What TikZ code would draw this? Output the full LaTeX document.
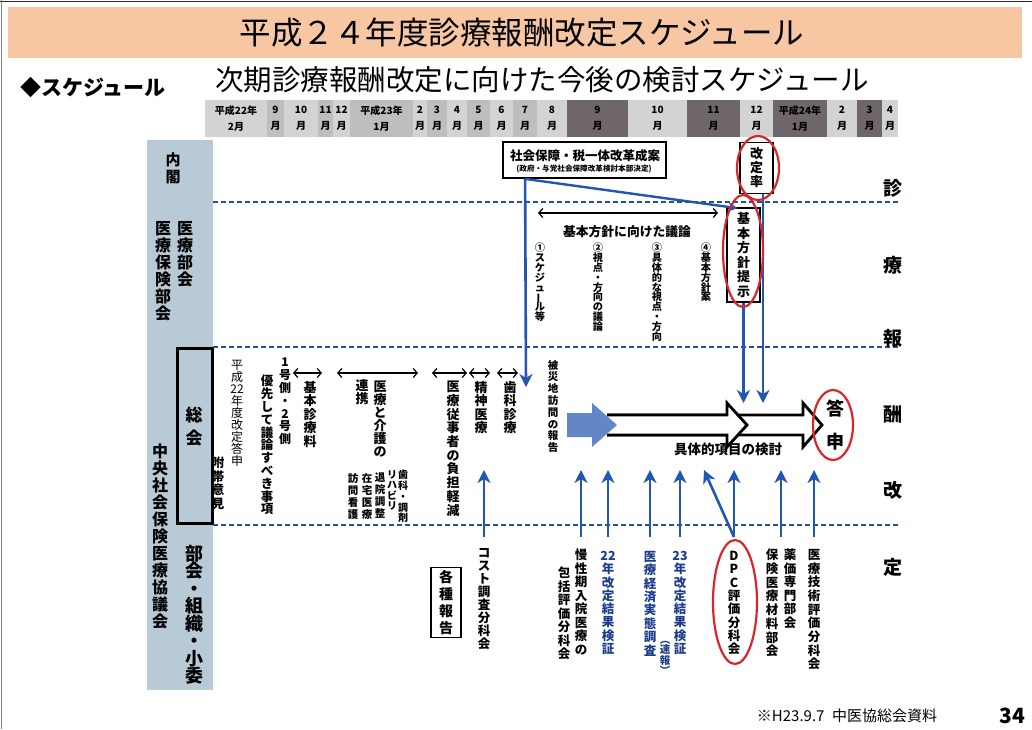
\documentclass[tikz,border=0pt]{standalone}
\usepackage{fontspec}
\setmainfont{Noto Sans CJK JP}
\usepackage{graphicx}
\usetikzlibrary{arrows.meta,shapes.geometric,calc}
\definecolor{peach}{HTML}{F7C7A4}
\definecolor{bandblue}{HTML}{B7CAD6}
\definecolor{arrblue}{HTML}{2356B0}
\definecolor{dashblue}{HTML}{2C4E9E}
\definecolor{navy}{HTML}{1E3C8C}
\definecolor{hlight}{HTML}{D3D3D3}
\definecolor{hmid}{HTML}{BEBEBE}
\definecolor{hdark}{HTML}{6E666A}
\definecolor{ovred}{HTML}{D8262C}
\definecolor{blockblue}{HTML}{6286C8}
\newcommand{\vbr}{\rotatebox[origin=c]{90}{ー}}
\newcommand{\vlp}{\rotatebox[origin=c]{-90}{（}}
\newcommand{\vrp}{\rotatebox[origin=c]{-90}{）}}
\newcommand{\nolsk}{\lineskiplimit=-50pt\relax}
\begin{document}
\begin{tikzpicture}[x=1pt,y=-1pt,
  vt/.style n args={2}{align=center,inner sep=0pt,anchor=north,font={\bfseries\fontsize{#1}{#2}\selectfont\nolsk}},
  vtr/.style n args={2}{align=center,inner sep=0pt,anchor=north,font={\fontsize{#1}{#2}\selectfont\nolsk}},
  bluearrow/.style={draw=arrblue,line width=2.6pt,-{Stealth[length=13pt,width=13pt,inset=4pt]}},
  dbl/.style={line width=1.2pt,arrows={Straight Barb[length=4pt,width=9pt]-Straight Barb[length=4pt,width=9pt]}},
  sepline/.style={draw=dashblue,line width=1.2pt,dash pattern=on 5pt off 3pt},
  redov/.style={ellipse,draw=ovred,line width=2.2pt,inner sep=0pt},
  boxed/.style={draw,line width=1.6pt,inner sep=0pt},
  hollow/.style={draw=black,fill=white,line width=2.8pt,line join=miter},
  hcell/.style={align=center,inner sep=0pt,font={\bfseries\fontsize{10}{16.5}\selectfont}},
  side/.style={inner sep=0pt,font={\bfseries\fontsize{19}{19}\selectfont}},
]
\useasboundingbox (0,0) rectangle (1032,729);
\fill[white] (0,0) rectangle (1032,729);
\draw[line width=1.6pt, black!85] (0,1.5) -- (1032,1.5);
\draw[line width=1pt, black!50] (1,0) -- (1,729);
\fill[peach] (8,7) rectangle (1022,58);
\node[font={\fontsize{31.5}{31.5}\selectfont}] (title) at (522,33) {平成２４年度診療報酬改定スケジュール};
\node[font={\bfseries\fontsize{21}{21}\selectfont}] (sched) at (93,88) {◆スケジュール};
\node[font={\fontsize{28.5}{28.5}\selectfont}] (subtitle) at (542,80) {次期診療報酬改定に向けた今後の検討スケジュール};

% month header
\foreach \xa/\xb/\cc/\ta/\tb [count=\i] in {
  205/267/hlight/平成22年/2月, 267/284/hmid/9/月, 284/318/hlight/10/月,
  318/333/hmid/11/月, 333/350/hlight/12/月, 350/413/hmid/平成23年/1月,
  413/427/hlight/2/月, 427/447/hmid/3/月, 447/467/hlight/4/月,
  467/490/hmid/5/月, 490/513/hlight/6/月, 513/537/hmid/7/月,
  537/567/hlight/8/月, 567/628/hdark/9/月, 628/687/hlight/10/月,
  687/740/hdark/11/月, 740/773/hlight/12/月, 773/827/hdark/平成24年/1月,
  827/857/hlight/2/月, 857/882/hdark/3/月, 882/898/hlight/4/月} {
  \fill[\cc] (\xa,100) rectangle (\xb,137);
  \node[hcell] (m\i) at ({(\xa+\xb)/2},118.5) {\ta\\\tb};
}

% left band
\fill[bandblue] (147,140) rectangle (213,690);
\node[vt={15}{17}] (naikaku) at (173,152) {内\\閣};
\node[vt={16}{17}] (iryobu) at (185,221) {医\\療\\部\\会};
\node[vt={16}{17}] (hokenbu) at (163,221) {医\\療\\保\\険\\部\\会};
\node[draw,line width=3pt,minimum width=35pt,minimum height=175pt,inner sep=0pt] (sokaibox) at (194.5,435.5) {};
\node[vt={17}{23}] (sokai) at (194,407) {総\\会};
\node[vt={16}{17}] (chuikyo) at (160,444) {中\\央\\社\\会\\保\\険\\医\\療\\協\\議\\会};
\node[vt={18}{17.5}] (bukai) at (194,545) {部\\会\\・\\組\\織\\・\\小\\委};

% separators
\draw[sepline] (213,202) -- (900,202);
\draw[sepline] (213,347) -- (900,347);
\draw[sepline] (213,525) -- (900,525);

% right column
\node[side] (r1) at (893,188) {診};
\node[side] (r2) at (893,265) {療};
\node[side] (r3) at (893,338) {報};
\node[side] (r4) at (893,415) {酬};
\node[side] (r5) at (893,490) {改};
\node[side] (r6) at (893,567) {定};

% top boxes
\node[boxed,line width=1.8pt,minimum width=163pt,minimum height=36pt] (seian) at (584.5,160) {};
\node[inner sep=0pt,font={\bfseries\fontsize{12.5}{12.5}\selectfont}] (seiant) at (585,155.5) {社会保障・税一体改革成案};
\node[inner sep=0pt,font={\bfseries\fontsize{7.6}{7.6}\selectfont}] (seians) at (584,169.5) {(政府・与党社会保障改革検討本部決定)};
\node[boxed,minimum width=33pt,minimum height=51pt,align=center,font={\bfseries\fontsize{13}{14}\selectfont\nolsk}] (kaitei) at (756.5,168) {改\\定\\率};
\node[boxed,minimum width=33pt,minimum height=94pt,align=center,font={\bfseries\fontsize{13}{14.5}\selectfont\nolsk}] (kihon) at (743.5,255) {基\\本\\方\\針\\提\\示};

% basic policy discussion
\coordinate (ga) at (538,213);
\coordinate (gb) at (718,213);
\draw[dbl] (ga) -- (gb);
\node[inner sep=0pt,font={\bfseries\fontsize{12.8}{12.8}\selectfont}] (giron) at (627,232) {基本方針に向けた議論};
\node[vt={10.2}{9.8}] (g1) at (540,243) {①\\ス\\ケ\\ジ\\ュ\\\vbr\\ル\\等};
\node[vt={10.2}{9.8}] (g2) at (598,243) {②\\視\\点\\・\\方\\向\\の\\議\\論};
\node[vt={10.2}{9.8}] (g3) at (657,243) {③\\具\\体\\的\\な\\視\\点\\・\\方\\向};
\node[vt={10.2}{9.8}] (g4) at (706,243) {④\\基\\本\\方\\針\\案};

% blue connectors from top
\coordinate (s1) at (526,387);
\coordinate (k1) at (743.5,403);
\coordinate (k2) at (763,403);
\draw[bluearrow] ($(seian.south west)+(23,0)$) -- (s1);
\draw[draw=arrblue,line width=2.4pt,-{Stealth[length=9pt,width=9pt,inset=2pt]}] ($(seian.south west)+(23,0)$) -- ($(kihon.north)+(-6,1)$);
\draw[bluearrow] (kihon.south) -- (k1);
\draw[bluearrow] ($(kaitei.south)+(6.5,0)$) -- (k2);

% middle section texts
\node[vtr={12}{12}] (h22) at (237,360) {平\\成\\22\\年\\度\\改\\定\\答\\申};
\node[vt={12.5}{13.5}] (futai) at (218,457) {附\\帯\\意\\見};
\node[vt={12}{12.8}] (gou) at (285,358) {1\\号\\側\\・\\2\\号\\側};
\node[vt={12.5}{12.8}] (yusen) at (267,375) {優\\先\\し\\て\\議\\論\\す\\べ\\き\\事\\項};
\node[vt={13}{13.5}] (kihonshin) at (310,381) {基\\本\\診\\療\\料};
\node[vt={13}{13}] (kaigo) at (380,381) {医\\療\\と\\介\\護\\の};
\node[vt={13}{13}] (renkei) at (362,379) {連\\携};
\node[vt={10}{10.8}] (shika2) at (403,470) {歯\\科\\・\\調\\剤};
\node[vt={10}{10.5}] (reha) at (392,470) {リ\\ハ\\ビ\\リ};
\node[vt={10.5}{12}] (taiin) at (380,473) {退\\院\\調\\整};
\node[vt={10.5}{12}] (zaitaku) at (367,473) {在\\宅\\医\\療};
\node[vt={10.5}{12}] (houmon) at (353,473) {訪\\問\\看\\護};
\node[vt={13}{13.7}] (futan) at (453,381) {医\\療\\従\\事\\者\\の\\負\\担\\軽\\減};
\node[vt={13}{13.5}] (seishin) at (481,381) {精\\神\\医\\療};
\node[vt={13}{13.5}] (shika) at (510,381) {歯\\科\\診\\療};
\node[vt={10.5}{11.8}] (hisai) at (553,360) {被\\災\\地\\訪\\問\\の\\報\\告};

\coordinate (a1) at (293,373); \coordinate (b1) at (322,373);
\coordinate (a2) at (337,373); \coordinate (b2) at (418,373);
\coordinate (a3) at (432,373); \coordinate (b3) at (467,373);
\coordinate (a4) at (469,373); \coordinate (b4) at (490,373);
\coordinate (a5) at (497,373); \coordinate (b5) at (518,373);
\draw[dbl] (a1) -- (b1);
\draw[dbl] (a2) -- (b2);
\draw[dbl] (a3) -- (b3);
\draw[dbl] (a4) -- (b4);
\draw[dbl] (a5) -- (b5);

% hollow arrows and block arrow
\draw[hollow] (607,415) -- (803,415) -- (803,403) -- (822,425) -- (803,447) -- (803,435) -- (607,435);
\draw[hollow] (607,415) -- (727,415) -- (727,403) -- (747,425) -- (727,447) -- (727,435) -- (607,435);
\fill[blockblue] (567,413) -- (592,413) -- (592,403) -- (617,425) -- (592,447) -- (592,437) -- (567,437) -- cycle;
\node[inner sep=0pt,font={\bfseries\fontsize{13.5}{13.5}\selectfont}] (gutai) at (728,449) {具体的項目の検討};
\node[vt={18}{33}] (toshin) at (835,400) {答\\申};

% bottom labels
\node[boxed,minimum width=30pt,minimum height=70pt,align=center,font={\bfseries\fontsize{14}{17}\selectfont\nolsk}] (kakushu) at (446,602.5) {各\\種\\報\\告};
\node[vt={12.5}{13}] (cost) at (484,548) {コ\\ス\\ト\\調\\査\\分\\科\\会};
\node[vt={12.5}{13.5}] (mansei) at (581,549) {慢\\性\\期\\入\\院\\医\\療\\の};
\node[vt={12.5}{13.5}] (houkatsu) at (564,567) {包\\括\\評\\価\\分\\科\\会};
\node[vt={12.5}{13.3},text=navy] (k22) at (608,551) {22\\年\\改\\定\\結\\果\\検\\証};
\node[vt={12.5}{13.4},text=navy] (keizai) at (650,551) {医\\療\\経\\済\\実\\態\\調\\査};
\node[vt={12.5}{13.3},text=navy] (k23) at (680,551) {23\\年\\改\\定\\結\\果\\検\\証};
\node[vt={10.5}{10.5},text=navy] (sokuho) at (665,634) {\vlp\\速\\報\\\vrp};
\node[vt={12.5}{13.3}] (dpc) at (734,551) {D\\P\\C\\評\\価\\分\\科\\会};
\node[vt={12.5}{13.5}] (yakka) at (790,549) {薬\\価\\専\\門\\部\\会};
\node[vt={12.5}{13.7}] (hokenzai) at (772,549) {保\\険\\医\\療\\材\\料\\部\\会};
\node[vt={12.5}{13.7}] (gijutsu) at (814,549) {医\\療\\技\\術\\評\\価\\分\\科\\会};

% bottom up arrows
\coordinate (base) at (0,537);
\coordinate (top) at (0,470);
\coordinate (ym) at ($(yakka.north)!0.5!(hokenzai.north)$);
\draw[bluearrow] (cost.north |- base) -- (cost.north |- top);
\draw[bluearrow] (mansei.north |- base) -- (mansei.north |- top);
\draw[bluearrow] (k22.north |- base) -- (k22.north |- top);
\draw[bluearrow] (keizai.north |- base) -- (keizai.north |- top);
\draw[bluearrow] (k23.north |- base) -- (k23.north |- top);
\draw[bluearrow] (dpc.north |- base) -- ($(dpc.north |- top)+(-30,0)$);
\draw[bluearrow] (dpc.north |- base) -- (dpc.north |- top);
\draw[bluearrow] (ym |- base) -- (ym |- top);
\draw[bluearrow] (gijutsu.north |- base) -- (gijutsu.north |- top);

% red ellipses
\node[redov,minimum width=42pt,minimum height=64pt] (e1) at (758,168) {};
\node[redov,minimum width=40pt,minimum height=112pt] (e2) at (743,251) {};
\node[redov,minimum width=40pt,minimum height=70pt] (e3) at (833,425) {};
\node[redov,minimum width=44pt,minimum height=124pt] (e4) at (735,602) {};

% footer
\node[inner sep=0pt,font={\fontsize{15}{15}\selectfont}] (src) at (847,716) {※H23.9.7\hspace{0.5em}中医協総会資料};
\node[inner sep=0pt,font={\bfseries\fontsize{21}{21}\selectfont}] (page) at (1012,716) {34};
\end{tikzpicture}
\end{document}
